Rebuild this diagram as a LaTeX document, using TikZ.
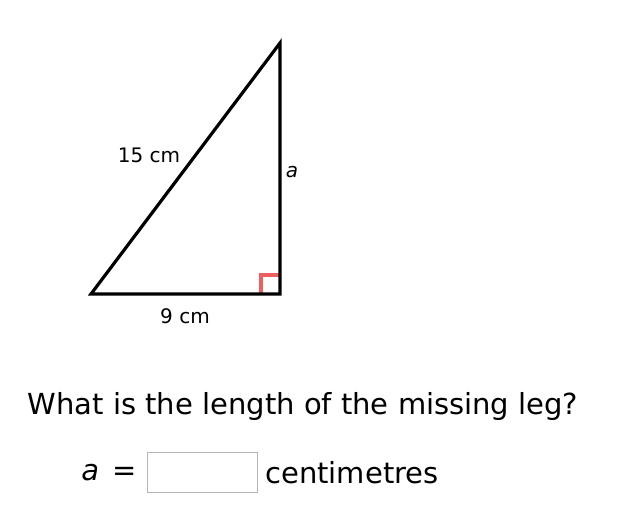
\documentclass[tikz,border=0pt]{standalone}
\usepackage{fontspec}
\setmainfont{DejaVu Sans}
\begin{document}
\begin{tikzpicture}[x=1pt,y=-1pt,
  lbl/.style={inner sep=0pt,font=\fontsize{20}{24}\selectfont},
  big/.style={inner sep=0pt,font=\fontsize{29}{34}\selectfont},
  edge/.style={line width=3.2pt,line join=miter,line cap=rect}]
\useasboundingbox (0,0) rectangle (624,514);
\definecolor{rightred}{RGB}{238,96,96}
\definecolor{boxgray}{RGB}{180,180,180}
\coordinate (A) at (91,294);
\coordinate (B) at (280,294);
\coordinate (C) at (280,43);
\draw[rightred,line width=3.4pt] (261,294) -- (261,275) -- (280,275);
\draw[edge] (A) -- (B) -- (C) -- cycle;
\node[lbl] (hyp) at (149,155) {15 cm};
\node[lbl] (leg) at (292,172) {\itshape a};
\node[lbl] (base) at (185,316) {9 cm};
\node[big] (q) at (303,406) {What is the length of the missing leg?};
\node[big] (av) at (109,473) {\itshape a\hspace{0.45em}\upshape =};
\node[draw=boxgray,line width=1pt,minimum width=110pt,minimum height=40pt,inner sep=0pt] (ans) at (202,472) {};
\node[big] (unit) at (352,473) {centimetres};
\end{tikzpicture}
\end{document}
